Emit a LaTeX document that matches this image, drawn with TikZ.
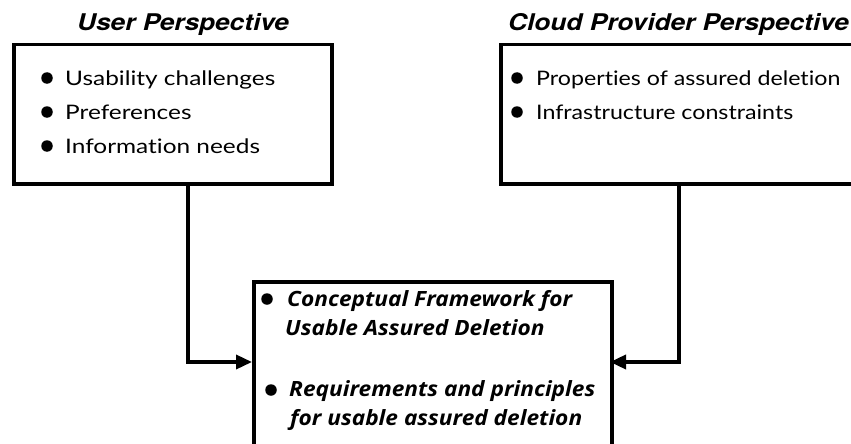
\documentclass[tikz,border=0pt]{standalone}
\usepackage{fontspec}
\newfontfamily\bodyfont[FakeStretch=1.22, Ligatures=NoCommon]{Lato}
\newfontfamily\bodyfontnarrow[FakeStretch=1.16, Ligatures=NoCommon]{Lato}
\newfontfamily\keyfont[FakeStretch=1.08]{Open Sans}
\newfontfamily\headfont[FakeStretch=1.14]{TeX Gyre Heros}
\usetikzlibrary{arrows.meta,calc}

\tikzset{
  panel/.style={draw, line width=3.5pt, rectangle, inner sep=0pt, anchor=north west},
  heading/.style={anchor=base west, inner sep=0pt, font=\headfont\bfseries\itshape\fontsize{23}{26}\selectfont},
  item/.style={anchor=base west, inner sep=0pt, font=\bodyfont\fontsize{20}{24}\selectfont},
  wideitem/.style={item, font=\bodyfontnarrow\fontsize{20}{24}\selectfont},
  keyitem/.style={anchor=base west, inner sep=0pt, font=\keyfont\bfseries\itshape\fontsize{21}{24}\selectfont},
  dot/.style={circle, fill=black, inner sep=0pt, minimum size=11.5pt},
  feed/.style={line width=3.5pt, -{Triangle[length=16pt, width=14pt]}},
}

\begin{document}
\begin{tikzpicture}[x=1pt, y=-1pt]
  \useasboundingbox (0,0) rectangle (851,444);

  % headings
  \node[heading] (uhead) at (77,31) {User Perspective};
  \node[heading] (chead) at (508,31) {Cloud Provider Perspective};

  % panels
  \node[panel, minimum width=318pt, minimum height=139pt] (user) at (12,43) {};
  \node[panel, minimum width=400pt, minimum height=139pt] (cloud) at (499,43) {};
  \node[panel, minimum width=358pt, minimum height=180pt] (frame) at (252,280) {};

  % user items
  \node[dot] (ud1) at (47,78) {};
  \node[dot] (ud2) at (47,112) {};
  \node[dot] (ud3) at (47,146) {};
  \node[item] (u1) at (65,85) {Usability challenges};
  \node[item] (u2) at (65,119) {Preferences};
  \node[item] (u3) at (65,153) {Information needs};

  % cloud items
  \node[dot] (cd1) at (517,78) {};
  \node[dot] (cd2) at (517,112) {};
  \node[wideitem] (c1) at (536,85) {Properties of assured deletion};
  \node[wideitem] (c2) at (536,119) {Infrastructure constraints};

  % framework items
  \node[dot] (fd1) at (267,299) {};
  \node[dot] (fd2) at (271,390) {};
  \node[keyitem] (f1) at (287,306) {Conceptual Framework for};
  \node[keyitem] (f2) at (285,335) {Usable Assured Deletion};
  \node[keyitem] (f3) at (289,396) {Requirements and principles};
  \node[keyitem] (f4) at (290,425) {for usable assured deletion};

  % connectors
  \coordinate (uout) at (188,182);
  \coordinate (cout) at (679,182);
  \coordinate (lin) at (252,362);
  \coordinate (rin) at (610,362);
  \draw[feed] (uout) |- (lin);
  \draw[feed] (cout) |- (rin);
\end{tikzpicture}
\end{document}
